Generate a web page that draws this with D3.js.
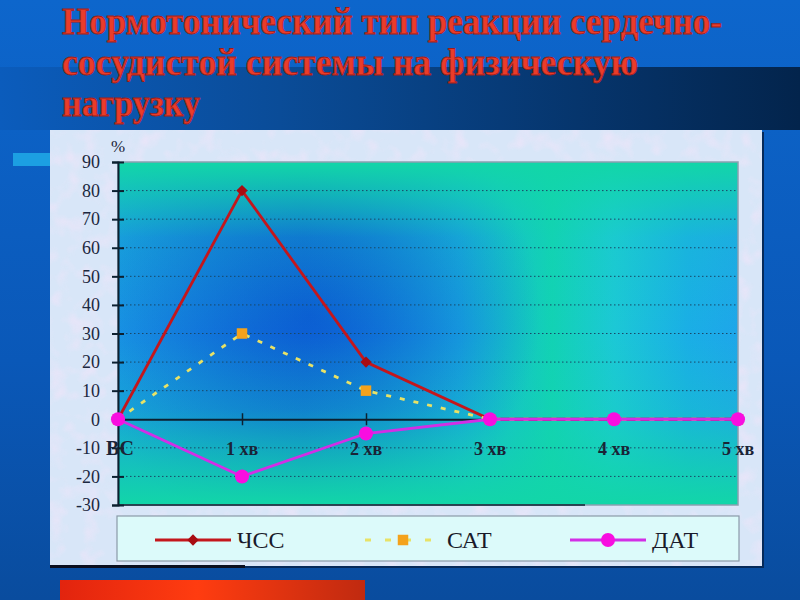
<!DOCTYPE html>
<html>
<head>
<meta charset="utf-8">
<script src="https://d3js.org/d3.v7.min.js"></script>
<style>
  body { margin: 0; background: #0b5cbc; }
  svg { display: block; }
  .ytick text { font-family: "Liberation Serif", serif; font-size: 18px; fill: #1c2840; }
  .xlab { font-family: "Liberation Serif", serif; font-size: 18px; font-weight: bold; fill: #1a2436; }
  .legend text { font-family: "Liberation Serif", serif; font-size: 24px; fill: #1a1a2a; }
  .title { font-family: "Liberation Serif", serif; font-weight: bold; font-size: 37px; fill: #ea3c2a; stroke: #a01c16; stroke-width: 0.8px; }
</style>
</head>
<body>
<svg id="chart" width="800" height="600"></svg>
<script>
// data
const stages = ["ВС", "1 хв", "2 хв", "3 хв", "4 хв", "5 хв"];
const chss = [0, 80, 20, 0, 0, 0];
const sat = [0, 30, 10, 0, 0, 0];
const dat = [0, -20, -5, 0, 0, 0];
const yTicks = [90, 80, 70, 60, 50, 40, 30, 20, 10, 0, -10, -20, -30];
const seriesNames = ["ЧСС", "САТ", "ДАТ"];
const titleLines = ["Нормотонический тип реакции сердечно-", "сосудистой системы на  физическую", "нагрузку"];

const svg = d3.select("#chart");
const defs = svg.append("defs");

// slide background
const bg = defs.append("linearGradient").attr("id", "bg").attr("x1", 0).attr("y1", 0).attr("x2", 0).attr("y2", 1);
bg.append("stop").attr("offset", "0%").attr("stop-color", "#0d66cc");
bg.append("stop").attr("offset", "60%").attr("stop-color", "#0a58b8");
bg.append("stop").attr("offset", "100%").attr("stop-color", "#094c9e");
svg.append("rect").attr("width", 800).attr("height", 600).attr("fill", "url(#bg)");

const band = defs.append("linearGradient").attr("id", "band");
band.append("stop").attr("offset", "0%").attr("stop-color", "#0b5cbc");
band.append("stop").attr("offset", "35%").attr("stop-color", "#0a4c98");
band.append("stop").attr("offset", "100%").attr("stop-color", "#03244c");
svg.append("rect").attr("x", 0).attr("y", 67).attr("width", 800).attr("height", 63).attr("fill", "url(#band)");

svg.append("rect").attr("x", 13).attr("y", 153).attr("width", 40).attr("height", 13).attr("fill", "#1c9fe2");

const red = defs.append("linearGradient").attr("id", "red");
red.append("stop").attr("offset", "0%").attr("stop-color", "#e2240e");
red.append("stop").attr("offset", "45%").attr("stop-color", "#ff3c10");
red.append("stop").attr("offset", "100%").attr("stop-color", "#c02a10");
svg.append("rect").attr("x", 60).attr("y", 580).attr("width", 305).attr("height", 20).attr("fill", "url(#red)");

// title
svg.selectAll("text.title").data(titleLines).join("text")
   .attr("class", "title")
   .attr("x", 62)
   .attr("y", (d, i) => 34 + i * 41)
   .attr("textLength", (d, i) => [660, 576, 138][i])
   .attr("lengthAdjust", "spacingAndGlyphs")
   .text(d => d);

// chart panel with a soft mottled texture
const tex = defs.append("filter").attr("id", "tex").attr("x", 0).attr("y", 0).attr("width", 1).attr("height", 1);
tex.append("feTurbulence").attr("type", "fractalNoise").attr("baseFrequency", 0.06).attr("numOctaves", 2).attr("seed", 3);
tex.append("feColorMatrix").attr("type", "matrix")
   .attr("values", "0 0 0 0 0.93  0 0 0 0 0.78  0 0 0 0 0.95  1.6 0 0 0 -0.75");
svg.append("rect").attr("x", 52).attr("y", 132).attr("width", 712).attr("height", 436).attr("fill", "#062a5a");
svg.append("rect").attr("x", 50).attr("y", 130).attr("width", 712).attr("height", 436).attr("fill", "#d8e6f8");
svg.append("rect").attr("x", 50).attr("y", 130).attr("width", 712).attr("height", 436)
   .attr("fill", "#fff").attr("filter", "url(#tex)").attr("opacity", 0.8);
svg.append("rect").attr("x", 50).attr("y", 565).attr("width", 195).attr("height", 3).attr("fill", "#0a0f20");

const x = d3.scalePoint().domain(stages).range([118, 738]);
const y = d3.scaleLinear().domain([-30, 90]).range([505, 162]);

// plot area fill
const hor = defs.append("linearGradient").attr("id", "hor");
[["0%", "#1a9ae6"], ["30%", "#1684dc"], ["55%", "#1ab0e2"], ["70%", "#12d2b4"], ["80%", "#1cc8d6"], ["92%", "#1aaee6"], ["100%", "#1ea6ea"]]
  .forEach(s => hor.append("stop").attr("offset", s[0]).attr("stop-color", s[1]));
const ver = defs.append("linearGradient").attr("id", "ver").attr("x1", 0).attr("y1", 0).attr("x2", 0).attr("y2", 1);
[["0%", 1], ["22%", 0.15], ["50%", 0], ["72%", 0.2], ["100%", 1]]
  .forEach(s => ver.append("stop").attr("offset", s[0]).attr("stop-color", "#12d6a8").attr("stop-opacity", s[1]));
const blob = defs.append("radialGradient").attr("id", "blob").attr("gradientUnits", "userSpaceOnUse")
   .attr("cx", 310).attr("cy", 315).attr("r", 230);
blob.append("stop").attr("offset", "0%").attr("stop-color", "#0a58d2").attr("stop-opacity", 0.9);
blob.append("stop").attr("offset", "100%").attr("stop-color", "#0a58d2").attr("stop-opacity", 0);

const plotW = x.range()[1] - x.range()[0], plotH = y(-30) - y(90);
["url(#hor)", "url(#blob)", "url(#ver)"].forEach(f =>
  svg.append("rect").attr("x", 118).attr("y", y(90)).attr("width", plotW).attr("height", plotH).attr("fill", f));
svg.append("rect").attr("x", 118).attr("y", y(90)).attr("width", plotW).attr("height", plotH)
   .attr("fill", "none").attr("stroke", "#8aa0b0").attr("stroke-width", 1.5);
svg.append("line").attr("x1", 118).attr("x2", 585).attr("y1", y(-30)).attr("y2", y(-30))
   .attr("stroke", "#0c2030").attr("stroke-width", 1.5);

// grid
svg.append("g").selectAll("line").data(yTicks.filter(v => v !== 0 && v !== 90 && v !== -30)).join("line")
   .attr("x1", 118).attr("x2", 738)
   .attr("y1", d => y(d)).attr("y2", d => y(d))
   .attr("stroke", "#1a4868").attr("stroke-width", 1).attr("stroke-dasharray", "1.5,2.5");

// y axis
const yAxis = svg.append("g").attr("transform", "translate(118,0)")
   .call(d3.axisLeft(y).tickValues(yTicks).tickSize(6).tickPadding(12).tickFormat(d => String(d)));
yAxis.select(".domain").attr("stroke", "#0c2030").attr("stroke-width", 2);
yAxis.selectAll(".tick").attr("class", "tick ytick");
yAxis.selectAll(".tick line").attr("x2", 6).attr("x1", -6).attr("stroke", "#0c2030").attr("stroke-width", 2);
yAxis.selectAll(".tick text").attr("fill", "#1c2840");
svg.append("text").attr("x", 111).attr("y", 152).attr("class", "xlab")
   .style("font-weight", "normal").style("font-size", "17px").text("%");

// zero axis
const xAxis = svg.append("g").attr("transform", "translate(0," + y(0) + ")")
   .call(d3.axisBottom(x).tickSize(6).tickFormat(""));
xAxis.select(".domain").attr("stroke", "#0c2030").attr("stroke-width", 2);
xAxis.selectAll(".tick line").attr("y1", -6).attr("stroke", "#0c2030").attr("stroke-width", 1.5);
svg.append("g").selectAll("text").data(stages).join("text")
   .attr("class", "xlab")
   .attr("x", d => x(d) + (d === "ВС" ? 2 : 0))
   .attr("y", y(0) + 36)
   .attr("text-anchor", "middle")
   .style("font-size", d => d === "ВС" ? "20px" : null)
   .text(d => d);

// series
const line = d3.line().x((d, i) => x(stages[i])).y(d => y(d));
const series = [
  { name: seriesNames[0], values: chss, color: "#c4161c", marker: "#a80c12", dash: null, shape: d3.symbolSquare, size: 64, rot: 45 },
  { name: seriesNames[1], values: sat, color: "#e8e266", marker: "#f4a21c", dash: "5,9", shape: d3.symbolSquare, size: 110, rot: 0 },
  { name: seriesNames[2], values: dat, color: "#d22ee6", marker: "#f80ee0", dash: null, shape: d3.symbolCircle, size: 155, rot: 0 }
];
series.forEach(s => {
  svg.append("path").datum(s.values).attr("d", line)
     .attr("fill", "none").attr("stroke", s.color).attr("stroke-width", 2.8)
     .attr("stroke-dasharray", s.dash);
  svg.append("g").selectAll("path").data(s.values).join("path")
     .attr("transform", (d, i) => "translate(" + x(stages[i]) + "," + y(d) + ") rotate(" + s.rot + ")")
     .attr("d", d3.symbol().type(s.shape).size(s.size))
     .attr("fill", s.marker);
});

// legend
const lg = svg.append("g").attr("class", "legend");
lg.append("rect").attr("x", 117).attr("y", 516).attr("width", 622).attr("height", 45)
  .attr("fill", "#dcfafa").attr("stroke", "#8a9aa8").attr("stroke-width", 1.2);
const lx = [155, 365, 570];
series.forEach((s, i) => {
  lg.append("line").attr("x1", lx[i]).attr("x2", lx[i] + 76).attr("y1", 540).attr("y2", 540)
    .attr("stroke", s.color).attr("stroke-width", 2.8).attr("stroke-dasharray", s.dash ? "6,14" : null);
  lg.append("path").attr("transform", "translate(" + (lx[i] + 38) + ",540) rotate(" + s.rot + ")")
    .attr("d", d3.symbol().type(s.shape).size(s.size)).attr("fill", s.marker);
  lg.append("text").attr("x", lx[i] + 82).attr("y", 548).text(s.name);
});
</script>
</body>
</html>
